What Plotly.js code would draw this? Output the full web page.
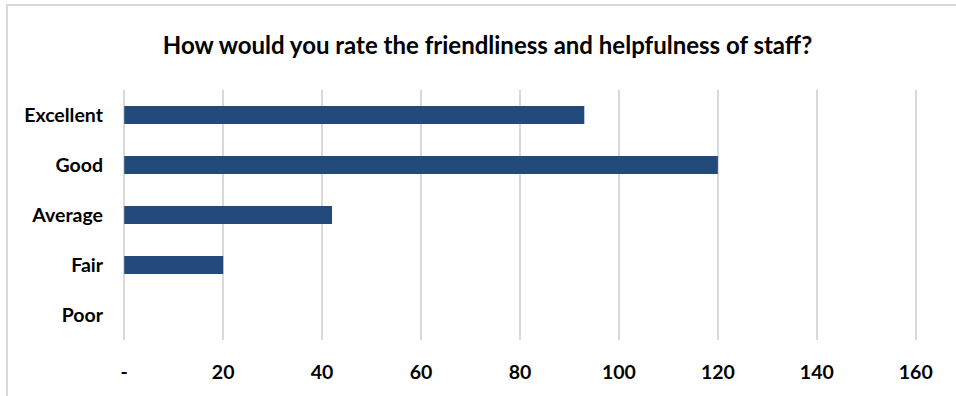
<!DOCTYPE html>
<html>
<head>
<meta charset="utf-8">
<script src="https://cdn.plot.ly/plotly-3.0.1.min.js"></script>
<style>
html,body{margin:0;padding:0;background:#fff;overflow:hidden;}
#frame{position:absolute;left:6px;top:4px;width:1000px;height:500px;border-left:2px solid #d9d9d9;border-top:2px solid #d9d9d9;box-sizing:border-box;}
#chart{position:absolute;left:0;top:0;width:956px;height:396px;}
</style>
</head>
<body>
<div id="frame"></div>
<div id="chart"></div>
<script>
var categories = ["Excellent", "Good", "Average", "Fair", "Poor"];
var values = [93, 120, 42, 20, 0];
var xTickVals = [0, 20, 40, 60, 80, 100, 120, 140, 160];
var xTickText = ["-", "20", "40", "60", "80", "100", "120", "140", "160"];
var chartTitle = "How would you rate the friendliness and helpfulness of staff?";

var font = "Lato, 'Open Sans', sans-serif";

var trace = {
  type: "bar",
  orientation: "h",
  y: categories,
  x: values,
  marker: {color: "#214A7B", line: {width: 0}},
  hoverinfo: "x+y"
};

var layout = {
  width: 956,
  height: 396,
  paper_bgcolor: "rgba(0,0,0,0)",
  plot_bgcolor: "rgba(0,0,0,0)",
  margin: {l: 123, r: 39, t: 90, b: 56},
  bargap: 0.64,
  showlegend: false,
  title: {
    text: chartTitle,
    font: {family: font, size: 24, color: "#000", weight: "bold"},
    x: 0.51, xanchor: "center", y: 0.885, yanchor: "middle"
  },
  xaxis: {
    range: [-0.25, 160.25],
    tickvals: xTickVals,
    ticktext: xTickText,
    showgrid: true,
    gridcolor: "#d9d9d9",
    gridwidth: 1.5,
    zeroline: false,
    showline: false,
    ticks: "",
    ticklabelstandoff: 18,
    tickfont: {family: font, size: 19.5, color: "#000", weight: "bold"},
    fixedrange: true
  },
  yaxis: {
    categoryorder: "array",
    categoryarray: categories.slice().reverse(),
    showgrid: false,
    zeroline: false,
    showline: false,
    ticks: "",
    ticklabelstandoff: 19,
    tickfont: {family: font, size: 19.5, color: "#000", weight: "bold"},
    fixedrange: true
  }
};

Plotly.newPlot("chart", [trace], layout, {displayModeBar: false, staticPlot: true});
</script>
</body>
</html>
